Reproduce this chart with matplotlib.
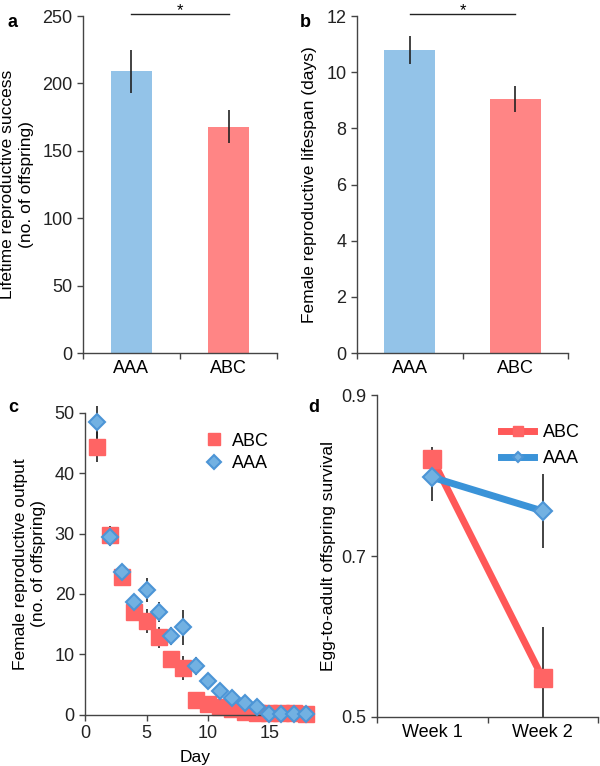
import matplotlib.pyplot as plt
import numpy as np

plt.rcParams['font.family'] = ['Liberation Sans', 'DejaVu Sans']
plt.rcParams['font.size'] = 12

# panel a: lifetime reproductive success
groups = ['AAA', 'ABC']
lrs_mean = [209, 168]
lrs_err = [16, 12.5]

# panel b: female reproductive lifespan (days)
lifespan_mean = [10.8, 9.05]
lifespan_err = [0.5, 0.45]

# panel c: daily output
days = np.arange(1, 19)
abc_daily = [44.3, 29.8, 22.8, 17.0, 15.5, 12.8, 9.3, 7.8, 2.5, 1.8, 1.3, 0.9,
             0.5, 0.2, 0.2, 0.3, 0.2, 0.1]
abc_daily_err = [2.5, 1.5, 1.2, 1.2, 2.0, 1.7, 1.3, 2.0, 0.5, 0.4, 0.3, 0.3,
                 0.2, 0.1, 0.1, 0.1, 0.1, 0.1]
aaa_daily = [48.5, 29.5, 23.6, 18.7, 20.6, 17.0, 13.1, 14.5, 8.1, 5.6, 3.9, 2.8,
             1.9, 1.2, 0.1, 0.1, 0.1, 0.1]
aaa_daily_err = [2.7, 1.6, 1.3, 1.2, 2.0, 1.7, 1.5, 2.9, 1.5, 0.6, 0.4, 0.3,
                 0.3, 0.2, 0.1, 0.1, 0.1, 0.1]

# panel d: egg-to-adult survival
weeks = ['Week 1', 'Week 2']
abc_surv = [0.821, 0.548]
abc_surv_err = [0.015, 0.064]
aaa_surv = [0.798, 0.756]
aaa_surv_err = [0.029, 0.046]

blue_bar = '#93c3e8'
red_bar = '#ff8585'
red_mk = '#ff6464'
blue_mk = '#72b1e2'
blue_edge = '#4c95d6'
red_line = '#ff5858'
blue_line = '#3a93d8'
axis_col = '#444444'
TICK_FS = 13
LAB_FS = 12.5


def style(ax):
    for s in ['top', 'right']:
        ax.spines[s].set_visible(False)
    for s in ['left', 'bottom']:
        ax.spines[s].set_color(axis_col)
        ax.spines[s].set_linewidth(1.0)
    ax.tick_params(direction='out', length=4, width=1, color=axis_col,
                   labelsize=TICK_FS, labelcolor='#222222')


def cat_axis(ax, labels):
    ax.set_xlim(-0.5, 1.5)
    ax.set_xticks([-0.5, 0.5, 1.5])
    ax.set_xticklabels(['', '', ''])
    ax.set_xticks([0, 1], minor=True)
    ax.set_xticklabels(labels, minor=True)
    ax.tick_params(axis='x', which='minor', length=0, labelsize=TICK_FS, pad=5)


def sig_bar(ax, y):
    # significance line between the two bar centres, star above it
    ax.plot([0, 1], [y, y], color='#222222', lw=1, clip_on=False)
    fig.text(ax.transData.transform((0.5, 0))[0] / fig.dpi / fig.get_figwidth(),
             1 - 3 / 766, '*', ha='center', va='top', fontsize=12)


fig = plt.figure(figsize=(6, 7.66), dpi=100)

# a
ax = fig.add_axes([0.138, 0.539, 0.324, 0.440])
x = np.arange(len(groups))
ax.bar(x, lrs_mean, width=0.43, color=[blue_bar, red_bar])
ax.errorbar(x, lrs_mean, yerr=lrs_err, fmt='none', ecolor='#222222', elinewidth=1.2)
ax.set_ylim(0, 250)
ax.set_yticks(np.arange(0, 251, 50))
cat_axis(ax, groups)
style(ax)
ax.set_ylabel('Lifetime reproductive success\n(no. of offspring)', fontsize=LAB_FS,
              linespacing=1.3, labelpad=6)
sig_bar(ax, 251.5)
fig.text(0.013, 0.965, 'a', fontsize=13, fontweight='bold')

# b
ax = fig.add_axes([0.595, 0.539, 0.352, 0.440])
ax.bar(x, lifespan_mean, width=0.48, color=[blue_bar, red_bar])
ax.errorbar(x, lifespan_mean, yerr=lifespan_err, fmt='none', ecolor='#222222',
            elinewidth=1.2)
ax.set_ylim(0, 12)
ax.set_yticks(np.arange(0, 13, 2))
cat_axis(ax, groups)
style(ax)
ax.set_ylabel('Female reproductive lifespan (days)', fontsize=LAB_FS, labelpad=7)
sig_bar(ax, 12.07)
fig.text(0.5, 0.965, 'b', fontsize=13, fontweight='bold')

# c
ax = fig.add_axes([0.142, 0.067, 0.368, 0.394])
ax.errorbar(days, abc_daily, yerr=abc_daily_err, fmt='none', ecolor='#222222',
            elinewidth=1.2, zorder=1, clip_on=False)
ax.errorbar(days, aaa_daily, yerr=aaa_daily_err, fmt='none', ecolor='#222222',
            elinewidth=1.2, zorder=1, clip_on=False)
ax.plot(days, abc_daily, 's', color=red_mk, ms=11, mec=red_mk, label='ABC',
        zorder=2, clip_on=False)
ax.plot(days, aaa_daily, 'D', color=blue_mk, ms=8, mec=blue_edge, mew=1.5,
        label='AAA', zorder=3, clip_on=False)
ax.set_xlim(0, 18)
ax.set_ylim(0, 50)
ax.set_xticks([0, 5, 10, 15])
ax.set_yticks(np.arange(0, 51, 10))
style(ax)
ax.set_xlabel('Day', fontsize=LAB_FS, labelpad=6)
ax.set_ylabel('Female reproductive output\n(no. of offspring)', fontsize=LAB_FS,
              linespacing=1.3, labelpad=6)
ax.legend(loc='upper right', bbox_to_anchor=(0.88, 0.97), frameon=False,
          handletextpad=0.0, borderaxespad=0.2, fontsize=TICK_FS,
          labelspacing=0.3, markerscale=0.85)
fig.text(0.013, 0.462, 'c', fontsize=13, fontweight='bold')

# d
ax = fig.add_axes([0.628, 0.064, 0.369, 0.420])
xw = np.arange(len(weeks))
ax.errorbar(xw, abc_surv, yerr=abc_surv_err, fmt='none', ecolor='#222222',
            elinewidth=1.2, zorder=1)
ax.errorbar(xw, aaa_surv, yerr=aaa_surv_err, fmt='none', ecolor='#222222',
            elinewidth=1.2, zorder=1)
ax.plot(xw, abc_surv, '-s', color=red_line, lw=5, ms=13, mfc=red_mk, mec=red_mk,
        label='ABC', zorder=2)
ax.plot(xw, aaa_surv, '-D', color=blue_line, lw=5, ms=9, mfc=blue_mk, mec=blue_edge,
        mew=1.5, label='AAA', zorder=3)
ax.set_ylim(0.5, 0.9)
ax.set_yticks([0.5, 0.7, 0.9])
ax.set_yticklabels(['0.5', '0.7', '0.9'])
cat_axis(ax, weeks)
style(ax)
ax.set_ylabel('Egg-to-adult offspring survival', fontsize=LAB_FS)
ax.legend(loc='upper right', bbox_to_anchor=(0.99, 0.96), frameon=False,
          handlelength=1.8, handletextpad=0.5, fontsize=TICK_FS, labelspacing=0.5,
          markerscale=0.6)
fig.text(0.513, 0.462, 'd', fontsize=13, fontweight='bold')

fig.savefig('out.png', dpi=100)
